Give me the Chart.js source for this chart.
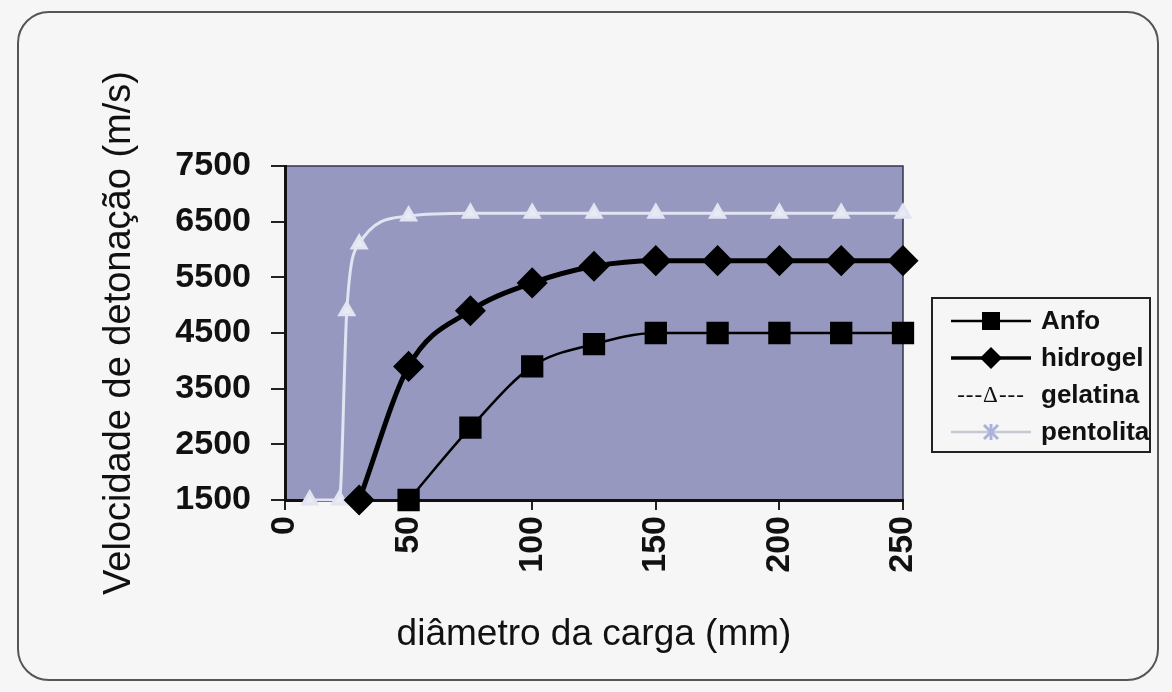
<!DOCTYPE html>
<html>
<head>
<meta charset="utf-8">
<script src="https://cdn.jsdelivr.net/npm/chart.js@4"></script>
<style>
  html, body { margin: 0; padding: 0; background: #f6f6f6; }
  #wrap { position: relative; width: 1172px; height: 692px; overflow: hidden; }
  #frame { position: absolute; left: 17px; top: 11px; width: 1142px; height: 670px;
           border: 2px solid #555; border-radius: 32px; box-sizing: border-box; }
  #chart { position: absolute; left: 0; top: 0; }
  #legend { position: absolute; left: 931px; top: 297px; width: 220px; height: 156px;
            border: 2px solid #222; box-sizing: border-box; padding-top: 3px; padding-left: 16px;
            font-family: 'Liberation Sans', Arial, sans-serif; font-weight: bold; font-size: 26px; color: #111; }
  .item { display: flex; align-items: center; height: 37px; }
  .item canvas, .item .txtIcon { width: 84px; margin-right: 8px; flex: none; }
  .txtIcon { font-family: 'Liberation Serif', serif; font-weight: normal; font-size: 23px; letter-spacing: 1px; text-align: center; }
</style>
</head>
<body>
<div id="wrap">
  <div id="frame"></div>
  <canvas id="chart" width="1172" height="692"></canvas>
  <div id="legend"></div>
</div>
<script>
// diâmetro da carga (mm) / velocidade de detonação (m/s)
const diamAnfo = [50, 75, 100, 125, 150, 175, 200, 225, 250];
const vodAnfo = [1500, 2800, 3900, 4300, 4500, 4500, 4500, 4500, 4500];

const diamHidrogel = [30, 50, 75, 100, 125, 150, 175, 200, 225, 250];
const vodHidrogel = [1500, 3900, 4900, 5400, 5700, 5800, 5800, 5800, 5800, 5800];

const diamGelatina = [];
const vodGelatina = [];

const diamPentolita = [10, 22, 25, 30, 50, 75, 100, 125, 150, 175, 200, 225, 250];
const vodPentolita = [1500, 1500, 4900, 6100, 6600, 6650, 6650, 6650, 6650, 6650, 6650, 6650, 6650];

const xTicks = [0, 50, 100, 150, 200, 250];
const yTicks = [1500, 2500, 3500, 4500, 5500, 6500, 7500];

const toPoints = (xs, ys) => xs.map((x, i) => ({ x: x, y: ys[i] }));

const datasets = [
  {
    label: 'Anfo',
    data: toPoints(diamAnfo, vodAnfo),
    borderColor: '#000', backgroundColor: '#000',
    borderWidth: 2.5, pointStyle: 'rect', pointRadius: 14, pointHoverRadius: 14,
    legendIcon: 'square'
  },
  {
    label: 'hidrogel',
    data: toPoints(diamHidrogel, vodHidrogel),
    borderColor: '#000', backgroundColor: '#000',
    borderWidth: 5, pointStyle: 'rectRot', pointRadius: 12, pointHoverRadius: 12,
    legendIcon: 'diamond'
  },
  {
    label: 'gelatina',
    data: toPoints(diamGelatina, vodGelatina),
    borderColor: '#000', backgroundColor: '#fff',
    borderWidth: 1, borderDash: [4, 3], pointStyle: 'triangle', pointRadius: 8,
    legendIcon: 'text'
  },
  {
    label: 'pentolita',
    data: toPoints(diamPentolita, vodPentolita),
    borderColor: '#e2e4f2', backgroundColor: '#e8eaf6',
    borderWidth: 3, pointStyle: 'triangle', pointRadius: 8, pointHoverRadius: 8,
    legendIcon: 'cross'
  }
];

const plotBackground = {
  id: 'plotBackground',
  beforeDraw(chart) {
    const { ctx, chartArea: a } = chart;
    ctx.save();
    ctx.fillStyle = '#9698c0';
    ctx.fillRect(a.left, a.top, a.width, a.height);
    ctx.strokeStyle = '#33344f';
    ctx.lineWidth = 1.5;
    ctx.beginPath();
    ctx.moveTo(a.left, a.top);
    ctx.lineTo(a.right, a.top);
    ctx.lineTo(a.right, a.bottom);
    ctx.stroke();
    ctx.restore();
  }
};

Chart.defaults.font.family = "'Liberation Sans', Arial, sans-serif";
Chart.defaults.color = '#111';

const chart = new Chart(document.getElementById('chart'), {
  type: 'line',
  data: { datasets: datasets },
  options: {
    responsive: false,
    animation: false,
    events: [],
    layout: { padding: { left: 95, top: 166, right: 269, bottom: 30 } },
    elements: {
      line: { tension: 0.4, cubicInterpolationMode: 'monotone' }
    },
    datasets: { line: { clip: false } },
    plugins: { legend: { display: false }, tooltip: { enabled: false } },
    scales: {
      x: {
        type: 'linear', min: 0, max: 250,
        afterBuildTicks: s => { s.ticks = xTicks.map(v => ({ value: v })); },
        afterFit: s => { s.height = 162; },
        ticks: { minRotation: 90, maxRotation: 90, padding: 6, font: { size: 34, weight: 'bold' }, color: '#111',
                 callback: v => String(v) },
        grid: { drawOnChartArea: false, drawTicks: true, tickLength: 10, color: '#222', lineWidth: 2 },
        border: { display: true, color: '#111', width: 3 },
        title: { display: true, text: 'diâmetro da carga (mm)', font: { size: 37 }, color: '#111', padding: { top: 0, bottom: 5 } }
      },
      y: {
        min: 1500, max: 7500,
        afterBuildTicks: s => { s.ticks = yTicks.map(v => ({ value: v })); },
        afterFit: s => { s.width = 190; },
        ticks: { padding: 20, font: { size: 34, weight: 'bold' }, color: '#111',
                 callback: v => String(v) },
        grid: { drawOnChartArea: false, drawTicks: true, tickLength: 14, color: '#222', lineWidth: 2 },
        border: { display: true, color: '#111', width: 3 },
        title: { display: true, text: 'Velocidade de detonação (m/s)', font: { size: 38 }, color: '#111', padding: { top: 2, bottom: 0 } }
      }
    }
  },
  plugins: [plotBackground]
});

// legenda
function legendIcon(ds) {
  if (ds.legendIcon === 'text') {
    const s = document.createElement('span');
    s.className = 'txtIcon';
    s.textContent = '---\u0394---';
    return s;
  }
  const c = document.createElement('canvas');
  c.width = 84; c.height = 30;
  const g = c.getContext('2d');
  const cy = 15, cx = 42;
  g.strokeStyle = ds.legendIcon === 'cross' ? '#c6c8d6' : ds.borderColor;
  g.lineWidth = ds.legendIcon === 'diamond' ? 3.5 : 2.5;
  g.beginPath(); g.moveTo(2, cy); g.lineTo(82, cy); g.stroke();
  g.fillStyle = '#000';
  if (ds.legendIcon === 'square') {
    g.fillRect(cx - 9, cy - 9, 18, 18);
  } else if (ds.legendIcon === 'diamond') {
    g.beginPath(); g.moveTo(cx, cy - 11); g.lineTo(cx + 11, cy); g.lineTo(cx, cy + 11); g.lineTo(cx - 11, cy); g.closePath(); g.fill();
  } else if (ds.legendIcon === 'cross') {
    g.strokeStyle = '#aeb2da'; g.lineWidth = 3;
    g.beginPath(); g.moveTo(cx - 7, cy - 7); g.lineTo(cx + 7, cy + 7); g.moveTo(cx + 7, cy - 7); g.lineTo(cx - 7, cy + 7); g.stroke();
    g.beginPath(); g.moveTo(cx, cy - 8); g.lineTo(cx, cy + 8); g.stroke();
  }
  return c;
}

const legendEl = document.getElementById('legend');
chart.data.datasets.forEach(ds => {
  const row = document.createElement('div');
  row.className = 'item';
  row.appendChild(legendIcon(ds));
  const t = document.createElement('span');
  t.textContent = ds.label;
  row.appendChild(t);
  legendEl.appendChild(row);
});
</script>
</body>
</html>
